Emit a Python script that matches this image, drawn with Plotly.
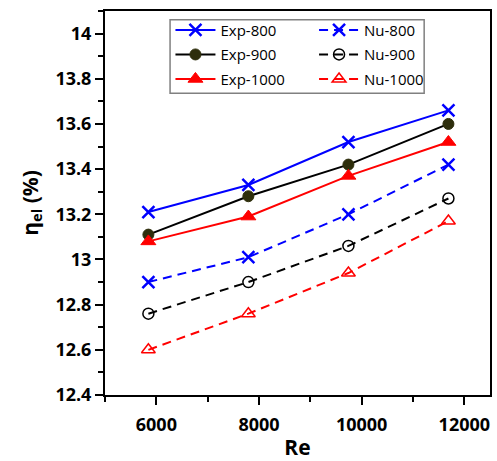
import plotly.graph_objects as go

# Reynolds numbers tested
re_vals = [5845, 7793, 9742, 11690]

# Electrical efficiency (%) - experimental
exp_800 = [13.21, 13.33, 13.52, 13.66]
exp_900 = [13.11, 13.28, 13.42, 13.60]
exp_1000 = [13.08, 13.19, 13.37, 13.52]

# Electrical efficiency (%) - numerical
nu_800 = [12.90, 13.01, 13.20, 13.42]
nu_900 = [12.76, 12.90, 13.06, 13.27]
nu_1000 = [12.60, 12.76, 12.94, 13.17]

FONT = "Open Sans"
BLUE = "#0000FF"
RED = "#FF0000"
BLACK = "#000000"
OLIVE = "#2E2E0C"
DASH = "9px,6px"

fig = go.Figure()

series = [
    ("Exp-800", exp_800, dict(color=BLUE, width=2), dict(symbol="x-thin", size=12, line=dict(color=BLUE, width=2.5)), "legend"),
    ("Exp-900", exp_900, dict(color=BLACK, width=2), dict(symbol="circle", size=11, color=OLIVE, line=dict(color=OLIVE, width=1)), "legend"),
    ("Exp-1000", exp_1000, dict(color=RED, width=2), dict(symbol="triangle-up", size=13, color=RED, line=dict(color=RED, width=1)), "legend"),
    ("Nu-800", nu_800, dict(color=BLUE, width=2, dash=DASH), dict(symbol="x-thin", size=12, line=dict(color=BLUE, width=2.5)), "legend2"),
    ("Nu-900", nu_900, dict(color=BLACK, width=2, dash=DASH), dict(symbol="circle-open", size=11, color=BLACK, line=dict(color=BLACK, width=1.5)), "legend2"),
    ("Nu-1000", nu_1000, dict(color=RED, width=2, dash=DASH), dict(symbol="triangle-up-open", size=12, color=RED, line=dict(color=RED, width=1.5)), "legend2"),
]

for name, vals, line, marker, leg in series:
    fig.add_trace(go.Scatter(
        x=re_vals, y=vals, name=name, mode="lines+markers",
        line=line, marker=marker, legend=leg, legendgroup=name,
    ))

axis_common = dict(
    showgrid=False, zeroline=False, automargin=False,
    showline=True, linecolor=BLACK, linewidth=2, mirror=True,
    ticks="outside", ticklen=8, tickwidth=2, tickcolor=BLACK,
    tickfont=dict(family=FONT, size=18, color=BLACK, weight="bold"),
)

fig.update_layout(
    width=497, height=461,
    margin=dict(l=105, r=7, t=11, b=66),
    paper_bgcolor="white", plot_bgcolor="white",
    font=dict(family=FONT, color=BLACK),
    xaxis=dict(
        range=[5000, 12500], tick0=0, dtick=2000, tickformat="d",
        ticklabelstandoff=4,
        minor=dict(dtick=1000, ticks="outside", ticklen=5, tickwidth=2, tickcolor=BLACK),
        title=dict(text="Re", font=dict(family=FONT, size=21, color=BLACK, weight="bold"), standoff=7),
        **axis_common,
    ),
    yaxis=dict(
        range=[12.4, 14.1], tick0=0, dtick=0.2,
        minor=dict(dtick=0.1, ticks="outside", ticklen=5, tickwidth=2, tickcolor=BLACK),
        title=dict(text="η<sub>el</sub> (%)", font=dict(family=FONT, size=21, color=BLACK, weight="bold"), standoff=11),
        **axis_common,
    ),
    legend=dict(
        x=0.17, y=0.993, xanchor="left", yanchor="top",
        bgcolor="rgba(0,0,0,0)", borderwidth=0,
        font=dict(family=FONT, size=15, color=BLACK),
        tracegroupgap=2, itemwidth=40,
    ),
    legend2=dict(
        x=0.543, y=0.993, xanchor="left", yanchor="top",
        bgcolor="rgba(0,0,0,0)", borderwidth=0,
        font=dict(family=FONT, size=15, color=BLACK),
        tracegroupgap=2, itemwidth=40,
    ),
    shapes=[dict(
        type="rect", xref="paper", yref="paper",
        x0=0.169, x1=0.829, y0=0.786, y1=0.977,
        line=dict(color="#808080", width=1.5), fillcolor="rgba(0,0,0,0)",
    )],
)

fig.write_html("out.html")
